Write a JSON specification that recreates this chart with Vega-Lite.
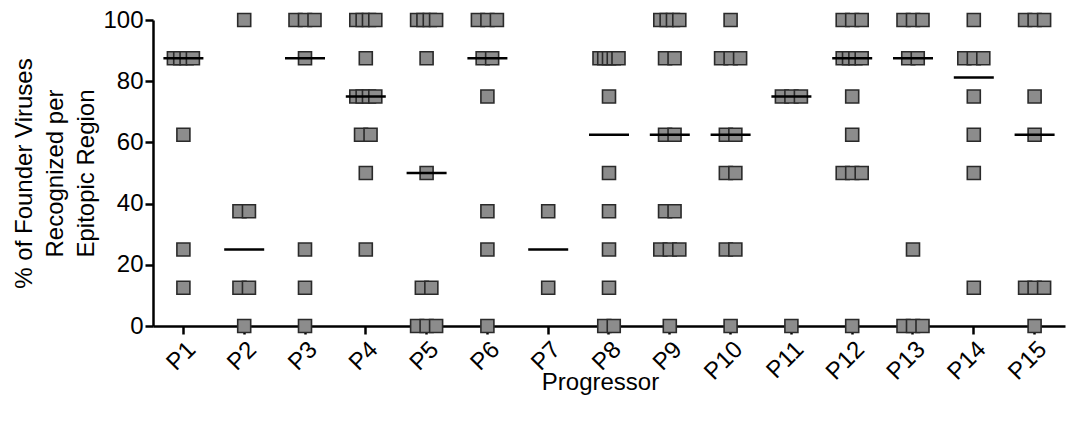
{
  "$schema": "https://vega.github.io/schema/vega-lite/v6.json",
  "width": 912,
  "height": 306,
  "autosize": "none",
  "padding": {"left": 153, "top": 20, "right": 4, "bottom": 100},
  "background": "white",
  "config": {
    "view": {"stroke": null},
    "font": "Liberation Sans",
    "axis": {
      "domainColor": "black", "domainWidth": 2.5, "tickColor": "black", "tickWidth": 2.5,
      "tickSize": 8, "labelColor": "black", "labelFont": "Liberation Sans", "labelFontSize": 24,
      "titleFont": "Liberation Sans", "titleFontSize": 24, "titleFontWeight": "normal", "titleColor": "black",
      "grid": false
    }
  },
  "data": {"values": [
    {"p":"P1","v":87.5},{"p":"P1","v":87.5},{"p":"P1","v":87.5},{"p":"P1","v":87.5},{"p":"P1","v":62.5},{"p":"P1","v":25},{"p":"P1","v":12.5},
    {"p":"P2","v":100},{"p":"P2","v":37.5},{"p":"P2","v":37.5},{"p":"P2","v":12.5},{"p":"P2","v":12.5},{"p":"P2","v":0},
    {"p":"P3","v":100},{"p":"P3","v":100},{"p":"P3","v":100},{"p":"P3","v":87.5},{"p":"P3","v":25},{"p":"P3","v":12.5},{"p":"P3","v":0},
    {"p":"P4","v":100},{"p":"P4","v":100},{"p":"P4","v":100},{"p":"P4","v":100},{"p":"P4","v":87.5},{"p":"P4","v":75},{"p":"P4","v":75},{"p":"P4","v":75},{"p":"P4","v":75},{"p":"P4","v":62.5},{"p":"P4","v":62.5},{"p":"P4","v":50},{"p":"P4","v":25},
    {"p":"P5","v":100},{"p":"P5","v":100},{"p":"P5","v":100},{"p":"P5","v":100},{"p":"P5","v":87.5},{"p":"P5","v":50},{"p":"P5","v":12.5},{"p":"P5","v":12.5},{"p":"P5","v":0},{"p":"P5","v":0},{"p":"P5","v":0},
    {"p":"P6","v":100},{"p":"P6","v":100},{"p":"P6","v":100},{"p":"P6","v":87.5},{"p":"P6","v":87.5},{"p":"P6","v":75},{"p":"P6","v":37.5},{"p":"P6","v":25},{"p":"P6","v":0},
    {"p":"P7","v":37.5},{"p":"P7","v":12.5},
    {"p":"P8","v":87.5},{"p":"P8","v":87.5},{"p":"P8","v":87.5},{"p":"P8","v":87.5},{"p":"P8","v":87.5},{"p":"P8","v":75},{"p":"P8","v":50},{"p":"P8","v":37.5},{"p":"P8","v":25},{"p":"P8","v":12.5},{"p":"P8","v":0},{"p":"P8","v":0},
    {"p":"P9","v":100},{"p":"P9","v":100},{"p":"P9","v":100},{"p":"P9","v":100},{"p":"P9","v":87.5},{"p":"P9","v":87.5},{"p":"P9","v":62.5},{"p":"P9","v":62.5},{"p":"P9","v":37.5},{"p":"P9","v":37.5},{"p":"P9","v":25},{"p":"P9","v":25},{"p":"P9","v":25},{"p":"P9","v":0},
    {"p":"P10","v":100},{"p":"P10","v":87.5},{"p":"P10","v":87.5},{"p":"P10","v":87.5},{"p":"P10","v":62.5},{"p":"P10","v":62.5},{"p":"P10","v":50},{"p":"P10","v":50},{"p":"P10","v":25},{"p":"P10","v":25},{"p":"P10","v":0},
    {"p":"P11","v":75},{"p":"P11","v":75},{"p":"P11","v":75},{"p":"P11","v":0},
    {"p":"P12","v":100},{"p":"P12","v":100},{"p":"P12","v":100},{"p":"P12","v":87.5},{"p":"P12","v":87.5},{"p":"P12","v":87.5},{"p":"P12","v":87.5},{"p":"P12","v":75},{"p":"P12","v":62.5},{"p":"P12","v":50},{"p":"P12","v":50},{"p":"P12","v":50},{"p":"P12","v":0},
    {"p":"P13","v":100},{"p":"P13","v":100},{"p":"P13","v":100},{"p":"P13","v":87.5},{"p":"P13","v":87.5},{"p":"P13","v":25},{"p":"P13","v":0},{"p":"P13","v":0},{"p":"P13","v":0},
    {"p":"P14","v":100},{"p":"P14","v":87.5},{"p":"P14","v":87.5},{"p":"P14","v":87.5},{"p":"P14","v":75},{"p":"P14","v":62.5},{"p":"P14","v":50},{"p":"P14","v":12.5},
    {"p":"P15","v":100},{"p":"P15","v":100},{"p":"P15","v":100},{"p":"P15","v":75},{"p":"P15","v":62.5},{"p":"P15","v":12.5},{"p":"P15","v":12.5},{"p":"P15","v":12.5},{"p":"P15","v":0}
  ]},
  "encoding": {
    "x": {
      "field": "p", "type": "nominal", "sort": null,
      "scale": {"paddingInner": 0, "paddingOuter": 0},
      "axis": {"title": "Progressor", "labelAngle": -45, "labelPadding": 3, "titlePadding": -14, "titleX": 447}
    }
  },
  "layer": [
    {
      "transform": [
        {"window": [{"op": "row_number", "as": "r"}], "groupby": ["p", "v"]},
        {"joinaggregate": [{"op": "count", "as": "n"}], "groupby": ["p", "v"]},
        {"calculate": "datum.n > 1 ? (datum.r - (datum.n + 1) / 2) * min(9.5, 19 / (datum.n - 1)) : 0", "as": "off"}
      ],
      "mark": {"type": "point", "shape": "square", "filled": true, "size": 169, "fill": "#8c8c8c", "fillOpacity": 1, "stroke": "#2a2a2a", "strokeWidth": 1.6, "opacity": 1},
      "encoding": {
        "xOffset": {"field": "off", "type": "quantitative", "scale": {"domain": [-30.4, 30.4], "range": [0, 60.8]}},
        "y": {
          "field": "v", "type": "quantitative",
          "scale": {"domain": [0, 100], "nice": false, "zero": true},
          "axis": {"values": [0, 20, 40, 60, 80, 100], "labelPadding": 2, "titlePadding": 4,
                   "title": ["% of Founder Viruses", "Recognized per", "Epitopic Region"], "titleLineHeight": 31}
        }
      }
    },
    {
      "mark": {"type": "tick", "color": "black", "size": 40, "thickness": 2.5, "orient": "horizontal"},
      "encoding": {
        "y": {"aggregate": "median", "field": "v", "type": "quantitative"}
      }
    }
  ]
}
